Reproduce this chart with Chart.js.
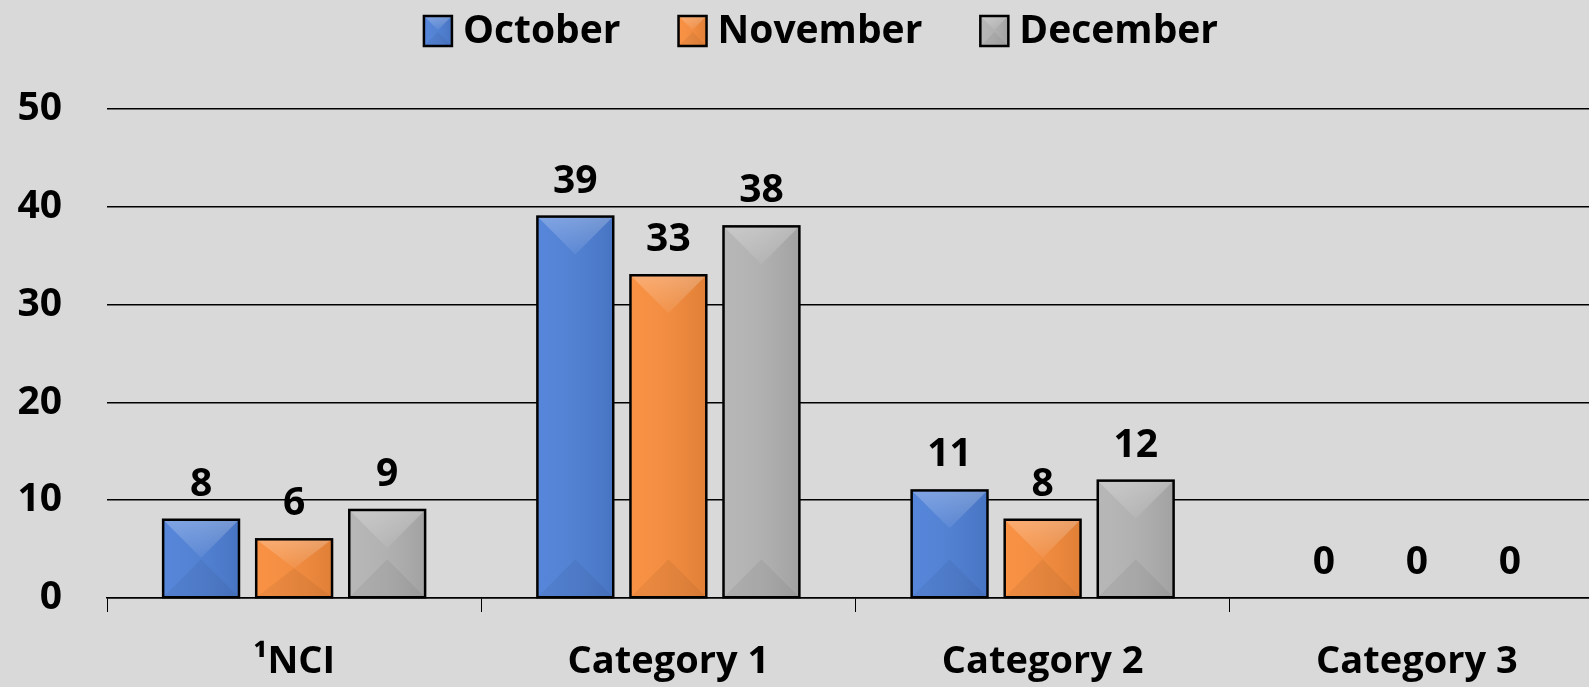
<!DOCTYPE html>
<html>
<head>
<meta charset="utf-8">
<script src="https://cdn.jsdelivr.net/npm/chart.js@4"></script>
<style>
  html, body { margin: 0; padding: 0; background: #d9d9d9; overflow: hidden; }
  #wrap { width: 1589px; height: 687px; overflow: hidden; }
</style>
</head>
<body>
<div id="wrap"><canvas id="barChart" width="1604" height="687"></canvas></div>
<script>
const categories = ['\u00b9NCI', 'Category 1', 'Category 2', 'Category 3'];
const october = [8, 39, 11, 0];
const november = [6, 33, 8, 0];
const december = [9, 38, 12, 0];
const yTicks = [0, 10, 20, 30, 40, 50];

const FONT = '"Open Sans", Lato, sans-serif';

function bevel(ctx, l, t, w, h) {
    const r = l + w, b = t + h, cx = l + w / 2;
    const d = Math.min(w / 2, h / 2);
    const g = ctx.createLinearGradient(l, 0, r, 0);
    g.addColorStop(0, 'rgba(255,255,255,0.04)');
    g.addColorStop(1, 'rgba(0,0,0,0.10)');
    ctx.fillStyle = g;
    ctx.fillRect(l, t, w, h);
    const gt = ctx.createLinearGradient(0, t, 0, t + d);
    gt.addColorStop(0, 'rgba(255,255,255,0.25)');
    gt.addColorStop(1, 'rgba(255,255,255,0.06)');
    ctx.fillStyle = gt;
    ctx.beginPath();
    ctx.moveTo(l, t); ctx.lineTo(r, t); ctx.lineTo(cx, t + d); ctx.closePath();
    ctx.fill();
    ctx.fillStyle = 'rgba(0,0,0,0.05)';
    ctx.beginPath();
    ctx.moveTo(l, b); ctx.lineTo(r, b); ctx.lineTo(cx, b - d); ctx.closePath();
    ctx.fill();
    ctx.strokeStyle = '#000';
    ctx.lineWidth = 2.5;
    ctx.strokeRect(l, t, w, h);
}

// bevelled look + value labels on top of the bars
const bevelPlugin = {
    id: 'bevel',
    afterDatasetsDraw(chart) {
        const ctx = chart.ctx;
        chart.data.datasets.forEach((ds, i) => {
            const meta = chart.getDatasetMeta(i);
            meta.data.forEach((bar, j) => {
                const w = bar.width;
                const h = bar.base - bar.y;
                ctx.save();
                if (h > 1) bevel(ctx, bar.x - w / 2, bar.y, w, h);
                ctx.fillStyle = '#000';
                ctx.font = 'bold 39px ' + FONT;
                ctx.textAlign = 'center';
                ctx.textBaseline = 'alphabetic';
                ctx.fillText(ds.data[j], bar.x, bar.y - 24);
                ctx.restore();
            });
        });
    }
};

// legend drawn at the top, centred
const legendPlugin = {
    id: 'topLegend',
    afterDraw(chart) {
        const ctx = chart.ctx;
        const boxW = 28, boxH = 30, gapText = 11, gapItem = 58, cy = 31;
        ctx.save();
        ctx.font = 'bold 39px ' + FONT;
        const items = chart.data.datasets.map(ds => ({
            text: ds.label, color: ds.backgroundColor, tw: ctx.measureText(ds.label).width
        }));
        const total = items.reduce((s, it) => s + boxW + gapText + it.tw, 0) + gapItem * (items.length - 1);
        let x = (chart.width - total) / 2 + 19;
        items.forEach(it => {
            ctx.fillStyle = it.color;
            ctx.fillRect(x, cy - boxH / 2, boxW, boxH);
            bevel(ctx, x, cy - boxH / 2, boxW, boxH);
            ctx.fillStyle = '#000';
            ctx.textAlign = 'left';
            ctx.textBaseline = 'middle';
            ctx.fillText(it.text, x + boxW + gapText, cy + 1);
            x += boxW + gapText + it.tw + gapItem;
        });
        ctx.restore();
    }
};

const ctx = document.getElementById('barChart').getContext('2d');
const chart = new Chart(ctx, {
    type: 'bar',
    data: {
        labels: categories,
        datasets: [
            { label: 'October', data: october, backgroundColor: '#4f81d8' },
            { label: 'November', data: november, backgroundColor: '#f98d3c' },
            { label: 'December', data: december, backgroundColor: '#b4b4b4' }
        ]
    },
    options: {
        responsive: false,
        animation: false,
        layout: { padding: { top: 109, right: 0, left: 0, bottom: 0 } },
        datasets: {
            bar: { categoryPercentage: 0.746, barPercentage: 0.815, borderWidth: 0 }
        },
        scales: {
            x: {
                afterFit: (scale) => { scale.height = 89; },
                grid: {
                    offset: true,
                    drawOnChartArea: false,
                    color: '#000',
                    tickLength: 14,
                    tickColor: '#000'
                },
                border: { color: '#000', width: 1.5 },
                ticks: {
                    color: '#000',
                    padding: 27,
                    font: { family: FONT, size: 38, weight: 'bold' }
                }
            },
            y: {
                min: 0,
                max: 50,
                afterBuildTicks: (scale) => { scale.ticks = yTicks.map(v => ({ value: v })); },
                afterFit: (scale) => { scale.width = 107; },
                grid: { color: '#000', lineWidth: 1.5, drawTicks: false },
                border: { display: false },
                ticks: {
                    color: '#000',
                    padding: 45,
                    font: { family: FONT, size: 39, weight: 'bold' }
                }
            }
        },
        plugins: {
            legend: { display: false },
            tooltip: { enabled: false }
        }
    },
    plugins: [bevelPlugin, legendPlugin]
});
</script>
</body>
</html>
